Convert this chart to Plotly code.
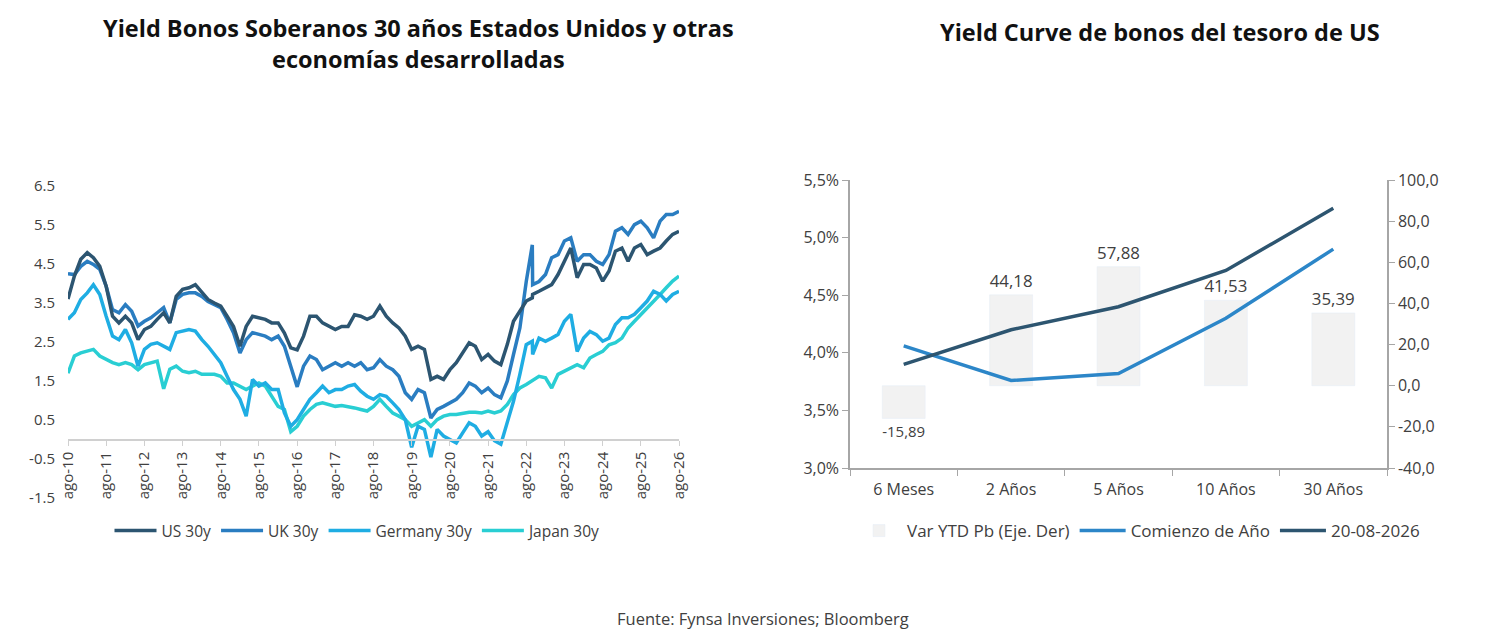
import plotly.graph_objects as go
import pandas as pd

# Left chart: 30y sovereign yields, every two months from ago-10 to ago-26
# (extra point inserted for the Sep-22 gilt spike)
dates = list(pd.date_range('2010-08-01', '2026-08-01', freq='2MS'))
dates.insert(73, pd.Timestamp('2022-09-28'))

us_30y = [3.60, 4.19, 4.62, 4.79, 4.66, 4.44, 3.93, 3.16, 2.99, 3.16, 2.99, 2.56,
          2.82, 2.90, 3.08, 3.25, 2.99, 3.67, 3.85, 3.89, 3.97, 3.76, 3.59, 3.50,
          3.42, 3.16, 2.90, 2.39, 2.90, 3.16, 3.12, 3.08, 2.99, 2.99, 2.73, 2.35,
          2.30, 2.65, 3.16, 3.16, 2.99, 2.90, 2.82, 2.90, 2.90, 3.20, 3.16, 3.08,
          3.16, 3.42, 3.16, 2.99, 2.86, 2.65, 2.31, 2.39, 2.31, 1.54, 1.62, 1.54,
          1.79, 1.97, 2.22, 2.48, 2.39, 2.05, 2.18, 2.01, 1.92, 2.44, 3.03, 3.29,
          3.55, 3.63, 3.72, 3.80, 3.89, 3.97, 4.23, 4.57, 4.91, 4.15, 4.49, 4.49,
          4.40, 4.06, 4.32, 4.83, 4.91, 4.57, 4.91, 5.00, 4.74, 4.83, 4.91, 5.09,
          5.26, 5.34]
uk_30y = [4.25, 4.23, 4.44, 4.57, 4.49, 4.36, 3.93, 3.33, 3.25, 3.46, 3.29, 2.91,
          3.03, 3.12, 3.25, 3.38, 2.99, 3.59, 3.72, 3.76, 3.76, 3.67, 3.54, 3.46,
          3.38, 3.08, 2.74, 2.22, 2.56, 2.74, 2.69, 2.65, 2.56, 2.65, 2.39, 1.88,
          1.35, 1.88, 2.14, 2.05, 1.79, 1.88, 1.97, 1.88, 1.97, 1.88, 1.97, 1.79,
          1.84, 2.05, 1.88, 1.79, 1.62, 1.20, 1.03, 1.28, 1.20, 0.55, 0.77, 0.85,
          0.94, 1.03, 1.20, 1.45, 1.37, 1.20, 1.32, 1.15, 1.07, 1.50, 2.18, 2.86,
          4.05, 4.99, 3.97, 4.05, 4.23, 4.66, 4.74, 5.09, 5.17, 4.57, 4.74, 4.74,
          4.57, 4.49, 4.74, 5.34, 5.43, 5.26, 5.51, 5.60, 5.43, 5.17, 5.60, 5.77,
          5.77, 5.85]
germany_30y = [3.08, 3.25, 3.59, 3.76, 3.97, 3.72, 3.16, 2.65, 2.56, 2.82, 2.48, 1.88,
               2.31, 2.44, 2.48, 2.39, 2.31, 2.74, 2.78, 2.82, 2.78, 2.56, 2.39, 2.18,
               1.97, 1.62, 1.28, 1.03, 0.60, 1.54, 1.37, 1.45, 1.28, 1.28, 0.68, 0.34,
               0.51, 0.77, 1.03, 1.20, 1.37, 1.20, 1.28, 1.28, 1.37, 1.41, 1.24, 1.11,
               1.03, 1.15, 1.11, 0.94, 0.77, 0.51, -0.20, 0.34, 0.26, -0.45, 0.26, 0.09,
               0.00, -0.09, 0.17, 0.43, 0.34, 0.09, 0.20, -0.03, -0.12, 0.47, 0.98, 1.67,
               2.43, 2.52, 2.18, 2.60, 2.52, 2.60, 2.69, 3.03, 3.21, 2.26, 2.60, 2.77,
               2.69, 2.52, 2.60, 2.95, 3.12, 3.12, 3.21, 3.38, 3.55, 3.80, 3.72, 3.55,
               3.72, 3.80]
japan_30y = [1.70, 2.14, 2.22, 2.27, 2.31, 2.14, 2.05, 1.97, 1.92, 1.97, 1.92, 1.79,
             1.92, 1.97, 2.01, 1.30, 1.80, 1.88, 1.75, 1.71, 1.75, 1.67, 1.67, 1.67,
             1.62, 1.45, 1.45, 1.37, 1.28, 1.37, 1.45, 1.37, 1.11, 0.85, 0.77, 0.20,
             0.34, 0.60, 0.77, 0.90, 0.94, 0.90, 0.85, 0.87, 0.85, 0.81, 0.77, 0.73,
             0.85, 1.03, 0.85, 0.68, 0.60, 0.51, 0.34, 0.43, 0.51, 0.34, 0.51, 0.60,
             0.64, 0.64, 0.68, 0.70, 0.70, 0.68, 0.73, 0.68, 0.73, 0.90, 1.15, 1.32,
             1.41, 1.50, 1.50, 1.62, 1.58, 1.32, 1.67, 1.75, 1.84, 1.92, 1.84, 2.09,
             2.18, 2.26, 2.43, 2.48, 2.60, 2.86, 3.03, 3.21, 3.38, 3.55, 3.72, 3.89,
             4.06, 4.19]

year_ticks = pd.date_range('2010-08-01', '2026-08-01', freq='12MS')
year_labels = ['ago-%02d' % (d.year % 100) for d in year_ticks]
left_yticks = [-1.5, -0.5, 0.5, 1.5, 2.5, 3.5, 4.5, 5.5, 6.5]

# Right chart: US treasury curve
tenors = ['6 Meses', '2 Años', '5 Años', '10 Años', '30 Años']
var_ytd_pb = [-15.89, 44.18, 57.88, 41.53, 35.39]
start_of_year = [4.06, 3.76, 3.82, 4.30, 4.90]
current_curve = [3.90, 4.20, 4.40, 4.715, 5.254]
right_pct_ticks = [3.0, 3.5, 4.0, 4.5, 5.0, 5.5]
right_pb_ticks = [-40, -20, 0, 20, 40, 60, 80, 100]

FONT = 'Open Sans'
TXT = '#404040'
W, H = 1491, 639
OFF = 8  # page body margin in front of the figure

def fx(px):
    return (px - OFF) / W

def fy(py):
    return 1 - (py - OFF) / H

def comma(s):
    return s.replace('.', ',')

fig = go.Figure()

left_colors = {'US 30y': '#2C5571', 'UK 30y': '#2A7DC1',
               'Germany 30y': '#1FADE3', 'Japan 30y': '#29CED3'}
left_data = {'US 30y': us_30y, 'UK 30y': uk_30y,
             'Germany 30y': germany_30y, 'Japan 30y': japan_30y}
for name in ['Japan 30y', 'Germany 30y', 'UK 30y', 'US 30y']:
    fig.add_trace(go.Scatter(
        x=dates, y=left_data[name], mode='lines', name=name,
        line=dict(color=left_colors[name], width=3.5),
        xaxis='x', yaxis='y', legend='legend'
    ))

fig.add_trace(go.Bar(
    x=tenors, y=var_ytd_pb, name='Var YTD Pb (Eje. Der)',
    marker=dict(color='#F2F2F2'), width=0.4,
    text=[comma('%.2f' % v) for v in var_ytd_pb],
    textposition='outside', cliponaxis=False,
    textfont=dict(size=17, color=TXT, family=FONT),
    xaxis='x2', yaxis='y2', legend='legend2'
))
fig.add_trace(go.Scatter(
    x=tenors, y=start_of_year, mode='lines', name='Comienzo de Año',
    line=dict(color='#2C86C8', width=3.5),
    xaxis='x2', yaxis='y3', legend='legend2'
))
fig.add_trace(go.Scatter(
    x=tenors, y=current_curve, mode='lines', name='20-08-2026',
    line=dict(color='#2D5570', width=3.5),
    xaxis='x2', yaxis='y3', legend='legend2'
))

left_font = dict(family=FONT, size=15, color=TXT)
right_font = dict(family=FONT, size=16, color=TXT)

fig.update_layout(
    width=W, height=H,
    margin=dict(l=0, r=0, t=0, b=0, autoexpand=False),
    paper_bgcolor='white', plot_bgcolor='white',
    font=dict(family=FONT, color=TXT),
    showlegend=True,
    xaxis=dict(
        domain=[fx(68), fx(679)], type='date', automargin=False,
        range=[year_ticks[0], year_ticks[-1]],
        anchor='free', position=fy(440),
        tickvals=list(year_ticks), ticktext=year_labels, tickangle=-90,
        showline=True, linecolor='#D0D0D0', linewidth=1.5,
        ticks='outside', ticklen=5, tickcolor='#D0D0D0',
        showgrid=False, zeroline=False, tickfont=left_font
    ),
    yaxis=dict(
        domain=[fy(498), fy(186)], range=[-1.5, 6.5], automargin=False,
        tickvals=left_yticks, ticktext=['%.1f' % v for v in left_yticks],
        showgrid=False, zeroline=False, showline=False,
        ticklabelstandoff=12, tickfont=left_font
    ),
    xaxis2=dict(
        domain=[fx(850), fx(1387)], anchor='y2', automargin=False,
        showline=True, linecolor='#A6A6A6', linewidth=1.5,
        ticks='outside', tickson='boundaries', ticklen=6, tickcolor='#A6A6A6',
        ticklabelstandoff=6,
        showgrid=False, zeroline=False, tickfont=right_font
    ),
    yaxis2=dict(
        domain=[fy(468), fy(180)], anchor='x2', side='right', automargin=False,
        range=[-40, 100], tickvals=right_pb_ticks,
        ticktext=[comma('%.1f' % v) for v in right_pb_ticks],
        showline=True, linecolor='#A6A6A6', linewidth=1.5,
        ticks='outside', ticklen=6, tickcolor='#A6A6A6',
        showgrid=False, zeroline=False, tickfont=right_font
    ),
    yaxis3=dict(
        overlaying='y2', anchor='x2', side='left', automargin=False,
        range=[3.0, 5.5], tickvals=right_pct_ticks,
        ticktext=[comma('%.1f%%' % v) for v in right_pct_ticks],
        showline=True, linecolor='#A6A6A6', linewidth=1.5,
        ticks='outside', ticklen=6, tickcolor='#A6A6A6',
        showgrid=False, zeroline=False, tickfont=right_font
    ),
    legend=dict(
        orientation='h', x=fx(358), xanchor='center', y=fy(531), yanchor='middle',
        font=dict(family=FONT, size=15.5, color=TXT), traceorder='reversed',
        itemwidth=42, bgcolor='rgba(0,0,0,0)'
    ),
    legend2=dict(
        orientation='h', x=fx(1138), xanchor='center', y=fy(531), yanchor='middle',
        font=dict(family=FONT, size=17, color=TXT),
        itemwidth=46, bgcolor='rgba(0,0,0,0)'
    ),
    annotations=[
        dict(text='<b>Yield Bonos Soberanos 30 años Estados Unidos y otras<br>economías desarrolladas</b>',
             x=fx(418), y=fy(43), xref='paper', yref='paper', showarrow=False,
             xanchor='center', yanchor='middle',
             font=dict(family=FONT, size=23.5, color='#111111'), align='center'),
        dict(text='<b>Yield Curve de bonos del tesoro de US</b>',
             x=fx(1160), y=fy(32), xref='paper', yref='paper', showarrow=False,
             xanchor='center', yanchor='middle',
             font=dict(family=FONT, size=23.5, color='#111111'), align='center'),
        dict(text='Fuente: Fynsa Inversiones; Bloomberg',
             x=fx(763), y=fy(618), xref='paper', yref='paper', showarrow=False,
             xanchor='center', yanchor='middle',
             font=dict(family=FONT, size=16.5, color=TXT)),
    ]
)

fig.write_html('out.html')
